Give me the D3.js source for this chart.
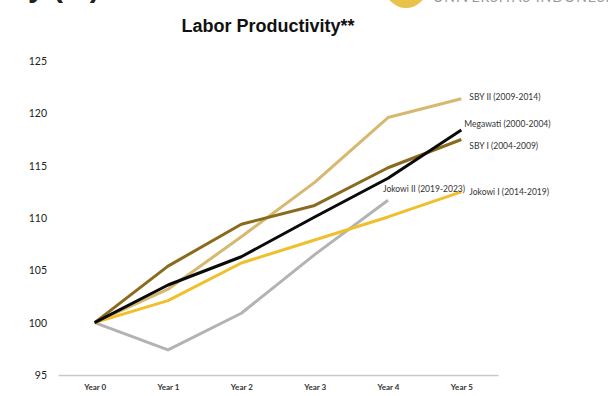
<!DOCTYPE html>
<html>
<head>
<meta charset="utf-8">
<script src="https://cdn.jsdelivr.net/npm/d3@7"></script>
<style>
  body { margin: 0; background: #fff; }
  svg { display: block; }
</style>
</head>
<body>
<div id="chart"></div>
<script>
// Labor productivity index (Year 0 = 100) by administration

const years = ["Year 0", "Year 1", "Year 2", "Year 3", "Year 4", "Year 5"];
const yTicks = [95, 100, 105, 110, 115, 120, 125];

const seriesNames = [
  "SBY II (2009-2014)",
  "Megawati (2000-2004)",
  "SBY I (2004-2009)",
  "Jokowi I (2014-2019)",
  "Jokowi II (2019-2023)"
];

const sbyII = [100, 103.2, 108.2, 113.4, 119.6, 121.4];
const megawati = [100, 103.6, 106.3, 110.1, 113.8, 118.4];
const sbyI = [100, 105.4, 109.4, 111.2, 114.8, 117.5];
const jokowiI = [100, 102.1, 105.7, 107.9, 110.1, 112.5];
const jokowiII = [100, 97.4, 100.9, 106.5, 111.7];

const seriesValues = [sbyII, megawati, sbyI, jokowiI, jokowiII];
const seriesColors = ["#d6b86f", "#0a0a0a", "#8a6a1c", "#efbf2c", "#b3b3b3"];

const W = 608, H = 396;
const margin = { top: 61, right: 110, bottom: 21, left: 58 };

const svg = d3.select("#chart").append("svg")
  .attr("width", W)
  .attr("height", H);

// cropped slide remnants (heading and logo cut at the top edge)
svg.append("text")
  .attr("x", 28)
  .attr("y", -3)
  .style("font-family", "Liberation Sans, sans-serif")
  .style("font-weight", "bold")
  .style("font-size", "30px")
  .attr("fill", "#222")
  .text("y (%)");

svg.append("circle")
  .attr("cx", 406)
  .attr("cy", -13)
  .attr("r", 21)
  .attr("fill", "#e9c24a");

svg.append("text")
  .attr("x", 433)
  .attr("y", 2)
  .style("font-family", "Lato, sans-serif")
  .style("font-size", "14px")
  .style("letter-spacing", "1px")
  .attr("fill", "#999")
  .text("UNIVERSITAS INDONESIA");

// title
svg.append("text")
  .attr("x", 268)
  .attr("y", 32)
  .attr("text-anchor", "middle")
  .style("font-family", "Liberation Sans, sans-serif")
  .style("font-weight", "bold")
  .style("font-size", "18px")
  .attr("fill", "#111")
  .text("Labor Productivity**");

const x = d3.scalePoint()
  .domain(years)
  .range([margin.left, W - margin.right])
  .padding(0.5);

const y = d3.scaleLinear()
  .domain([95, 125])
  .range([H - margin.bottom, margin.top]);

// y tick labels (no axis line)
const gY = svg.append("g")
  .attr("transform", `translate(${margin.left - 11},0)`)
  .call(d3.axisLeft(y).tickValues(yTicks).tickSize(0).tickPadding(0));
gY.select(".domain").remove();
gY.selectAll("text")
  .style("font-family", "Lato, sans-serif")
  .style("font-size", "10.5px")
  .attr("fill", "#222");

// x axis with baseline
const gX = svg.append("g")
  .attr("transform", `translate(0,${y(95)})`)
  .call(d3.axisBottom(x).tickSize(0).tickPadding(9));
gX.select(".domain")
  .attr("stroke", "#c9c9c9")
  .attr("stroke-width", 1.5);
gX.selectAll("text")
  .style("font-family", "Lato, sans-serif")
  .style("font-weight", "bold")
  .style("font-size", "8px")
  .attr("fill", "#333");

const line = d3.line()
  .x((d, i) => x(years[i]))
  .y(d => y(d));

// draw back-to-front so black and yellow sit on top
const drawOrder = [4, 0, 2, 3, 1];
drawOrder.forEach(i => {
  svg.append("path")
    .datum(seriesValues[i])
    .attr("fill", "none")
    .attr("stroke", seriesColors[i])
    .attr("stroke-width", 3)
    .attr("stroke-linejoin", "round")
    .attr("d", line);
});

// end labels
const labelOffsets = [
  { dx: 8, dy: -0.5 },
  { dx: 3, dy: -5 },
  { dx: 8, dy: 7 },
  { dx: 8, dy: 1 },
  { dx: -4, dy: -10 }
];

seriesNames.forEach((name, i) => {
  const vals = seriesValues[i];
  const last = vals.length - 1;
  // Jokowi II label sits left of its end point
  const lx = i === 4 ? 383 : x(years[last]) + labelOffsets[i].dx;
  svg.append("text")
    .attr("x", lx)
    .attr("y", y(vals[last]) + labelOffsets[i].dy)
    .attr("dominant-baseline", "middle")
    .style("font-family", "Lato, sans-serif")
    .style("font-size", "8.5px")
    .attr("fill", "#333")
    .text(name);
});
</script>
</body>
</html>
